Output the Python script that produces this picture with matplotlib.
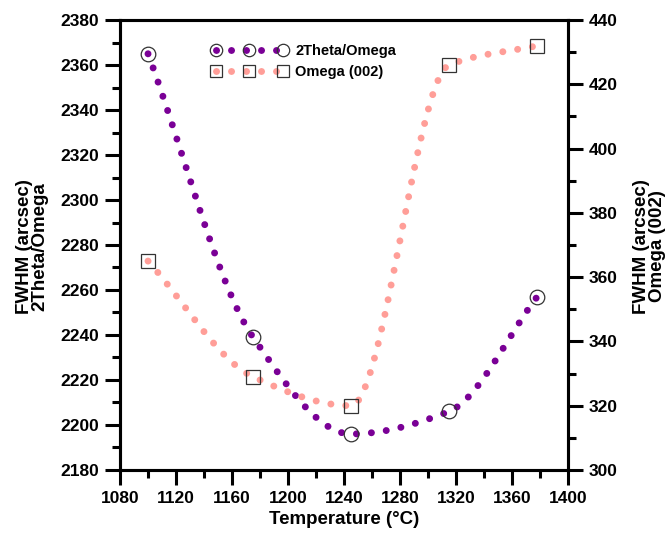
"""FWHM vs growth temperature, 2Theta/Omega and Omega(002) -> out.png"""
import numpy as np
import matplotlib
matplotlib.use("Agg")
import matplotlib.pyplot as plt
from matplotlib.legend_handler import HandlerTuple
from matplotlib.ticker import MultipleLocator

plt.rcParams["font.family"] = ["Liberation Sans", "DejaVu Sans"]
plt.rcParams["font.weight"] = "bold"

temperature = [1100, 1175, 1245, 1315, 1378]
fwhm_2theta = [2365, 2239, 2196, 2206, 2257]
fwhm_omega = [365, 329, 320, 426, 432]

PURPLE, PINK, EDGE = "#7a0096", "#ff9e98", "#333333"


def pchip(x, y, xs):
    # monotone cubic (Fritsch-Carlson), just for the smooth connecting line
    x = np.asarray(x, float); y = np.asarray(y, float)
    h = np.diff(x); d = np.diff(y) / h
    m = np.zeros_like(y)
    for k in range(1, len(x) - 1):
        if d[k-1] * d[k] > 0:
            w1, w2 = 2*h[k] + h[k-1], h[k] + 2*h[k-1]
            m[k] = (w1 + w2) / (w1/d[k-1] + w2/d[k])
    m[0], m[-1] = d[0], d[-1]
    i = np.clip(np.searchsorted(x, xs) - 1, 0, len(h) - 1)
    t = (xs - x[i]) / h[i]
    h00 = 2*t**3 - 3*t**2 + 1; h10 = t**3 - 2*t**2 + t
    h01 = -2*t**3 + 3*t**2; h11 = t**3 - t**2
    return h00*y[i] + h10*h[i]*m[i] + h01*y[i+1] + h11*h[i]*m[i+1]


fig = plt.figure(figsize=(6.69, 5.34), dpi=100)
ax = fig.add_axes([0.1794, 0.1199, 0.6696, 0.8426])
ax2 = ax.twinx()

xs = np.linspace(temperature[0], temperature[-1], 400)
dots = dict(lw=5.0, linestyle=(0, (0.01, 2.15)), dash_capstyle="round")

l1, = ax.plot(xs, pchip(temperature, fwhm_2theta, xs), color=PURPLE, **dots)
m1, = ax.plot(temperature, fwhm_2theta, "o", ms=10.5, mfc="none", mec=EDGE, mew=0.9)
l2, = ax2.plot(xs, pchip(temperature, fwhm_omega, xs), color=PINK, **dots)
m2, = ax2.plot(temperature, fwhm_omega, "s", ms=10, mfc="none", mec=EDGE, mew=0.9)

ax.set_xlim(1080, 1400); ax.set_ylim(2180, 2380); ax2.set_ylim(300, 440)
ax.xaxis.set_major_locator(MultipleLocator(40)); ax.xaxis.set_minor_locator(MultipleLocator(20))
ax.yaxis.set_major_locator(MultipleLocator(20)); ax.yaxis.set_minor_locator(MultipleLocator(10))
ax2.yaxis.set_major_locator(MultipleLocator(20)); ax2.yaxis.set_minor_locator(MultipleLocator(10))

for a in (ax, ax2):
    for s in a.spines.values():
        s.set_linewidth(2.2)
    a.tick_params(which="major", length=10.8, width=2.2, labelsize=12.5, direction="out", pad=4)
    a.tick_params(which="minor", length=5.8, width=2.2, direction="out")

ax.set_xlabel("Temperature (°C)", fontsize=13.5, fontweight="bold", labelpad=4)
ax.set_ylabel("FWHM (arcsec)\n2Theta/Omega", fontsize=13.5, fontweight="bold", linespacing=0.9)
ax.yaxis.set_label_coords(-0.16, 0.497)
ax2.set_ylabel("FWHM (arcsec)\nOmega (002)", fontsize=13.5, fontweight="bold",
               rotation=90, linespacing=0.9)
ax2.yaxis.set_label_coords(1.145, 0.497)

leg = ax.legend([(l1, m1), (l2, m2)], ["2Theta/Omega", "Omega (002)"],
                handler_map={tuple: HandlerTuple(ndivide=1, pad=0)},
                numpoints=3, markerscale=0.85, handlelength=5.2, handletextpad=0.55,
                labelspacing=0.45, frameon=False, fontsize=10.5, loc="upper left",
                bbox_to_anchor=(0.175, 0.975))
for t in leg.get_texts():
    t.set_fontweight("bold")

fig.savefig("out.png", dpi=100)
print("[saved] out.png")
